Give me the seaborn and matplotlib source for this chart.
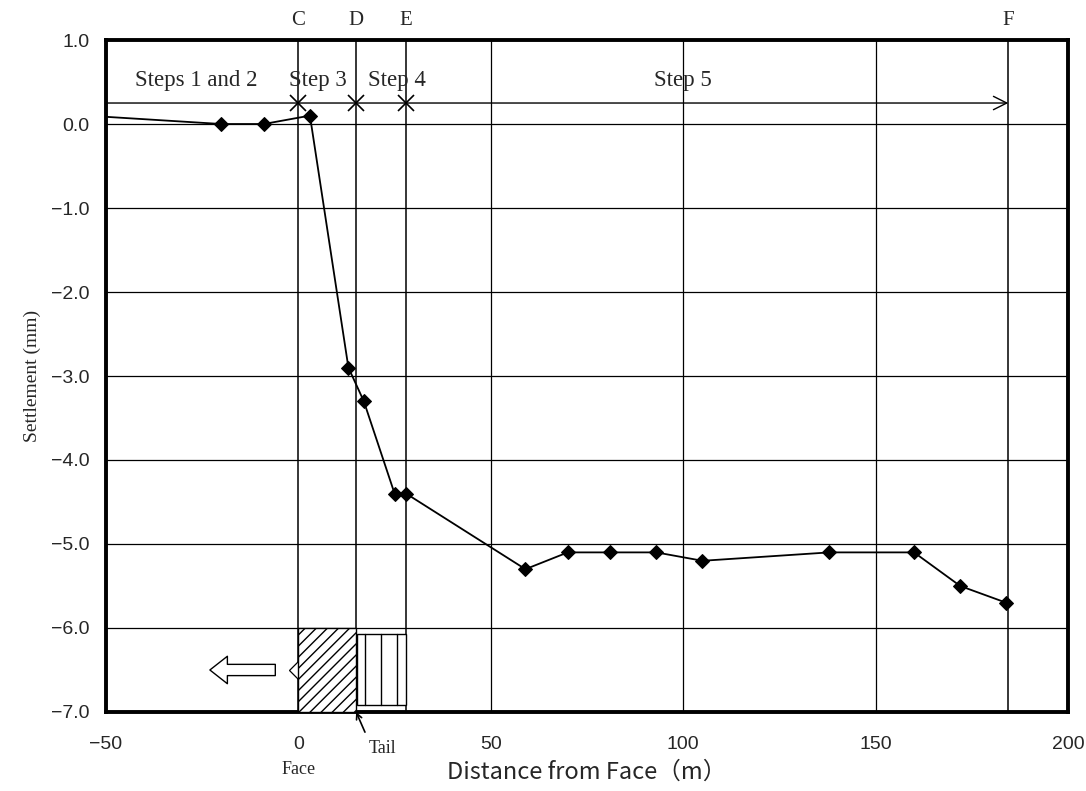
import numpy as np
import pandas as pd
import matplotlib
matplotlib.use("Agg")
import matplotlib.pyplot as plt
import seaborn as sns
from matplotlib.patches import Rectangle

# settlement measurements
distance = [-55, -20, -9, 3, 13, 17, 25, 28, 59, 70, 81, 93, 105, 138, 160, 172, 184]
settlement = [0.1, 0.0, 0.0, 0.1, -2.9, -3.3, -4.4, -4.4, -5.3, -5.1, -5.1, -5.1, -5.2, -5.1, -5.1, -5.5, -5.7]

# excavation step boundaries
step_names = ["C", "D", "E", "F"]
step_x = [0, 15, 28, 184.5]
step_labels = ["Steps 1 and 2", "Step 3", "Step 4", "Step 5"]
step_label_x = [-26.5, 5, 25.5, 100]

sns.set_style("white")
plt.rcParams["font.family"] = ["Liberation Sans", "DejaVu Sans"]
serif = ["Liberation Serif", "DejaVu Serif"]

fig = plt.figure(figsize=(10.86, 7.91), dpi=100)
ax = fig.add_axes([0.0976, 0.0999, 0.8858, 0.8495])

df = pd.DataFrame({"x": distance, "y": settlement})
sns.lineplot(data=df, x="x", y="y", ax=ax, color="black", lw=1.3, marker="D",
             markersize=7, markeredgecolor="black", sort=False, zorder=4)

ax.set_xlim(-50, 200)
ax.set_ylim(-7, 1)
ax.set_xticks([-50, 0, 50, 100, 150, 200])
ax.set_yticks(np.arange(-7, 1.01, 1))
ax.set_yticklabels([f"{v:.1f}".replace("-", "\u2212") for v in np.arange(-7, 1.01, 1)])
ax.tick_params(labelsize=14, length=0)
ax.tick_params(axis="x", pad=17)
ax.tick_params(axis="y", pad=12)

# grid: horizontal at every mm, verticals at 50s
for yv in np.arange(-6, 1, 1):
    ax.axhline(yv, color="black", lw=0.9, zorder=1)
for xv in [50, 100, 150]:
    ax.axvline(xv, color="black", lw=0.9, zorder=1)
for xv in step_x:
    ax.axvline(xv, color="black", lw=1.1, zorder=1)

for sp in ax.spines.values():
    sp.set_linewidth(2.8)
    sp.set_color("black")

# step arrow line
ax.annotate("", xy=(step_x[-1], 0.25), xytext=(-50, 0.25),
            arrowprops=dict(arrowstyle="->", color="black", lw=1.0,
                            mutation_scale=24, shrinkA=0, shrinkB=0), zorder=3)
ax.plot(step_x[:3], [0.25] * 3, ls="none", marker="x", markersize=12,
        color="black", mew=1.2, zorder=5)

for lab, xv in zip(step_labels, step_label_x):
    ax.text(xv, 0.52, lab, ha="center", va="center", fontsize=16.5, family=serif)
for lab, xv in zip(step_names, step_x):
    ax.text(xv, 1.12, lab, ha="center", va="bottom", fontsize=15, family=serif,
            clip_on=False)

# shield sketch at the bottom
ax.plot([0], [-6.5], marker="D", markersize=9, mfc="white", mec="black",
        mew=0.9, ls="none", zorder=2)
ax.add_patch(Rectangle((0, -7), 15, 1, facecolor="white", edgecolor="black",
                       hatch="///", lw=1.0, zorder=3))
ax.add_patch(Rectangle((15.3, -6.92), 12.6, 0.85, facecolor="white",
                       edgecolor="black", lw=1.0, zorder=3))
for xv in [17.4, 21.5, 25.6]:
    ax.plot([xv, xv], [-6.92, -6.07], color="black", lw=1.0, zorder=4)
ax.annotate("", xy=(-23, -6.5), xytext=(-6, -6.5),
            arrowprops=dict(arrowstyle="simple,head_length=0.7,head_width=1.1,tail_width=0.45",
                            fc="white", ec="black", lw=1.0, mutation_scale=18,
                            shrinkA=0, shrinkB=0))

ax.annotate("", xy=(15, -7.0), xytext=(17.3, -7.24), annotation_clip=False,
            arrowprops=dict(arrowstyle="->", color="black", lw=1.2,
                            shrinkA=0, shrinkB=0))
ax.text(21.8, -7.43, "Tail", ha="center", va="center", fontsize=13, family=serif,
        clip_on=False)
ax.text(0, -7.69, "Face", ha="center", va="center", fontsize=13, family=serif,
        clip_on=False)

ax.set_xlabel("Distance from Face\uff08m\uff09", fontsize=17, va="center",
              family=["Noto Sans CJK JP", "DejaVu Sans"])
ax.set_ylabel("Settlement (mm)", fontsize=14, family=serif, va="center")
ax.xaxis.set_label_coords(0.5, -0.089)
ax.yaxis.set_label_coords(-0.077, 0.5)

fig.savefig("out.png", dpi=100)
